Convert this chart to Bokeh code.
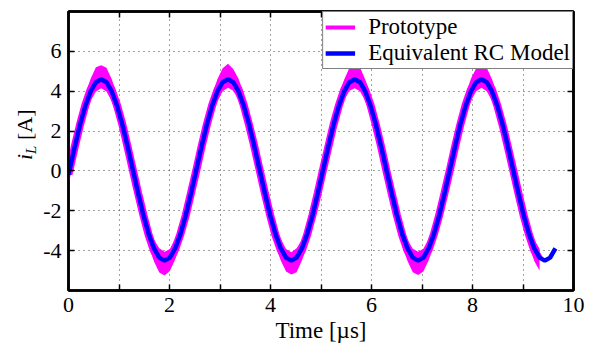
from bokeh.plotting import figure
from bokeh.layouts import row
from bokeh.models import FixedTicker, LinearAxis, Range1d, Legend, LegendItem, Div
from bokeh.embed import file_html
from bokeh.resources import INLINE

# ---- data ----
time_us = [0.0,
    0.020, 0.125, 0.229, 0.334, 0.438, 0.543, 0.648, 0.752, 0.857, 0.961, 1.066, 1.170,
    1.275, 1.380, 1.484, 1.589, 1.693, 1.798, 1.903, 2.007, 2.112, 2.216, 2.321, 2.425,
    2.530, 2.635, 2.739, 2.844, 2.948, 3.053, 3.158, 3.262, 3.367, 3.471, 3.576, 3.680,
    3.785, 3.890, 3.994, 4.099, 4.203, 4.308, 4.413, 4.517, 4.622, 4.726, 4.831, 4.935,
    5.040, 5.145, 5.249, 5.354, 5.458, 5.563, 5.668, 5.772, 5.877, 5.981, 6.086, 6.190,
    6.295, 6.400, 6.504, 6.609, 6.713, 6.818, 6.923, 7.027, 7.132, 7.236, 7.341, 7.445,
    7.550, 7.655, 7.759, 7.864, 7.968, 8.073, 8.178, 8.282, 8.387, 8.491, 8.596, 8.700,
    8.805, 8.910, 9.014, 9.119, 9.223, 9.328, 9.433, 9.537, 9.642]

model_iL = [-0.18,
    0.05, 1.23, 2.33, 3.27, 3.99, 4.45, 4.60, 4.45, 3.99, 3.27, 2.33, 1.23,
    0.05, -1.13, -2.23, -3.17, -3.89, -4.35, -4.50, -4.35, -3.89, -3.17, -2.23, -1.13,
    0.05, 1.23, 2.33, 3.27, 3.99, 4.45, 4.60, 4.45, 3.99, 3.27, 2.33, 1.23,
    0.05, -1.13, -2.23, -3.17, -3.89, -4.35, -4.50, -4.35, -3.89, -3.17, -2.23, -1.13,
    0.05, 1.23, 2.33, 3.27, 3.99, 4.45, 4.60, 4.45, 3.99, 3.27, 2.33, 1.23,
    0.05, -1.13, -2.23, -3.17, -3.89, -4.35, -4.50, -4.35, -3.89, -3.17, -2.23, -1.13,
    0.05, 1.23, 2.33, 3.27, 3.99, 4.45, 4.60, 4.45, 3.99, 3.27, 2.33, 1.23,
    0.05, -1.13, -2.23, -3.17, -3.89, -4.35, -4.50, -4.35, -3.89]

proto_upper = [0.30,
    0.55, 1.75, 2.85, 3.85, 4.62, 5.20, 5.30, 5.18, 4.60, 3.80, 2.85, 1.70,
    0.55, -0.60, -1.70, -2.70, -3.45, -3.88, -4.05, -3.92, -3.40, -2.65, -1.75, -0.62,
    0.52, 1.72, 2.82, 3.80, 4.60, 5.15, 5.38, 5.12, 4.62, 3.85, 2.80, 1.75,
    0.55, -0.65, -1.72, -2.72, -3.42, -3.92, -4.08, -3.88, -3.45, -2.68, -1.70, -0.60,
    0.55, 1.70, 2.85, 3.82, 4.58, 5.18, 5.32, 5.20, 4.58, 3.82, 2.82, 1.72,
    0.52, -0.62, -1.75, -2.70, -3.45, -3.90, -4.05, -3.90, -3.42, -2.65, -1.72, -0.62,
    0.52, 1.72, 2.82, 3.82, 4.62, 5.15, 5.35, 5.18, 4.60, 3.82, 2.82, 1.72,
    0.55, -0.62, -1.72, -2.68, -3.45, -3.90]

proto_lower = [-0.65,
    -0.45, 0.70, 1.80, 2.75, 3.52, 3.98, 4.15, 3.98, 3.50, 2.78, 1.82, 0.72,
    -0.48, -1.65, -2.75, -3.75, -4.55, -5.10, -5.25, -5.02, -4.45, -3.70, -2.72, -1.62,
    -0.48, 0.72, 1.82, 2.78, 3.50, 4.00, 4.18, 4.02, 3.55, 2.75, 1.80, 0.70,
    -0.45, -1.62, -2.72, -3.72, -4.50, -5.05, -5.20, -5.08, -4.50, -3.72, -2.75, -1.65,
    -0.45, 0.72, 1.80, 2.75, 3.55, 4.02, 4.15, 4.00, 3.52, 2.78, 1.82, 0.72,
    -0.48, -1.65, -2.72, -3.75, -4.52, -5.08, -5.22, -5.05, -4.48, -3.70, -2.72, -1.62,
    -0.48, 0.70, 1.82, 2.78, 3.52, 4.00, 4.18, 4.00, 3.52, 2.75, 1.80, 0.70,
    -0.45, -1.62, -2.75, -3.72, -4.52, -5.00]

x_ticks = [0, 1, 2, 3, 4, 5, 6, 7, 8, 9, 10]
x_tick_labels = {0: "0", 1: "", 2: "2", 3: "", 4: "4", 5: "", 6: "6", 7: "", 8: "8", 9: "", 10: "10"}
y_ticks = [-4, -2, 0, 2, 4, 6]
y_tick_labels = {-4: "-4", -2: "-2", 0: "0", 2: "2", 4: "4", 6: "6"}
x_title = "Time [µs]"
y_title_parts = ["i", "L", "[A]"]
legend_labels = ["Prototype", "Equivalent RC Model"]

FONT = "Liberation Serif"
FS = "23px"
FS_TICK = "22px"

# ---- main plot ----
p = figure(width=565, height=345, x_range=Range1d(0, 10), y_range=Range1d(-6, 8),
           output_backend="svg", toolbar_location=None,
           min_border_left=27, min_border_right=32, min_border_top=11, min_border_bottom=55)
p.background_fill_color = "white"
p.border_fill_color = "white"
p.outline_line_color = "black"
p.outline_line_width = 2.5

def style_axis(ax, ticks, overrides, fs):
    ax.ticker = FixedTicker(ticks=ticks)
    ax.axis_line_color = "black"
    ax.axis_line_width = 2.5
    ax.major_tick_in = 6
    ax.major_tick_out = 0
    ax.major_tick_line_color = "black"
    ax.major_tick_line_width = 1.5
    ax.minor_tick_line_color = None
    ax.major_label_text_font = FONT
    ax.major_label_text_color = "black"
    ax.major_label_text_font_size = fs
    ax.major_label_standoff = 7
    ax.major_label_overrides = overrides

style_axis(p.xaxis[0], x_ticks, x_tick_labels, FS_TICK)
p.xaxis[0].axis_label = x_title
p.xaxis[0].axis_label_text_font = FONT
p.xaxis[0].axis_label_text_font_size = FS
p.xaxis[0].axis_label_text_font_style = "normal"
p.xaxis[0].axis_label_text_color = "black"
p.xaxis[0].axis_label_standoff = 3
style_axis(p.yaxis[0], y_ticks, y_tick_labels, FS_TICK)
p.yaxis[0].major_label_standoff = 7

# mirrored inward ticks on top and right (no labels)
top_ax = LinearAxis()
style_axis(top_ax, x_ticks, {t: "" for t in x_ticks}, "1px")
top_ax.major_label_standoff = 0
p.add_layout(top_ax, "above")
right_ax = LinearAxis()
style_axis(right_ax, y_ticks, {t: "" for t in y_ticks}, "1px")
right_ax.major_label_standoff = 0
p.add_layout(right_ax, "right")

p.xgrid.ticker = FixedTicker(ticks=x_ticks)
p.ygrid.ticker = FixedTicker(ticks=y_ticks)
for g in (p.xgrid, p.ygrid):
    g.grid_line_color = "#444444"
    g.grid_line_dash = "1 4"
    g.grid_line_width = 1

# prototype (noisy measurement band) and model
n = len(proto_upper)
proto_mid = [(a + b) / 2 for a, b in zip(proto_upper, proto_lower)]
p.varea(x=time_us[:n], y1=proto_lower, y2=proto_upper, fill_color="#ff00ff")
r_proto_leg = p.line(time_us[:n], proto_mid, line_color="#ff00ff", line_width=4)
p.line(time_us[:n], proto_mid, line_color="#ff00ff", line_width=8)
r_model = p.line(time_us, model_iL, line_color="#0000ff", line_width=4.5)

legend = Legend(items=[LegendItem(label=legend_labels[0], renderers=[r_proto_leg]),
                       LegendItem(label=legend_labels[1], renderers=[r_model])],
                location="top_right")
legend.margin = 0
legend.padding = 2
legend.spacing = -6
legend.label_standoff = 13
legend.glyph_width = 30
legend.glyph_height = 18
legend.label_height = 18
legend.label_text_font = FONT
legend.label_text_font_size = FS
legend.label_text_color = "black"
legend.border_line_color = "black"
legend.border_line_width = 1.5
legend.background_fill_alpha = 1
p.add_layout(legend, "center")

# ---- left strip holding the rotated y-axis title  i_L [A]  (real HTML text) ----
ylabel_html = (
    '<div style="position:relative;width:40px;height:345px;overflow:visible;">'
    '<div style="position:absolute;left:14px;top:160px;transform-origin:0 0;'
    'transform:rotate(-90deg);font-family:\'Liberation Serif\';font-size:22px;'
    'line-height:22px;white-space:nowrap;color:black;">'
    '<i>' + y_title_parts[0] + '</i>'
    '<span style="font-size:15px;position:relative;top:4px;"><i>' + y_title_parts[1] + '</i></span>'
    '&nbsp;' + y_title_parts[2] + '</div></div>'
)
ylab = Div(text=ylabel_html, width=40, height=345, margin=0)

layout = row(ylab, p, spacing=0)
open("out.html", "w").write(file_html(layout, INLINE))
